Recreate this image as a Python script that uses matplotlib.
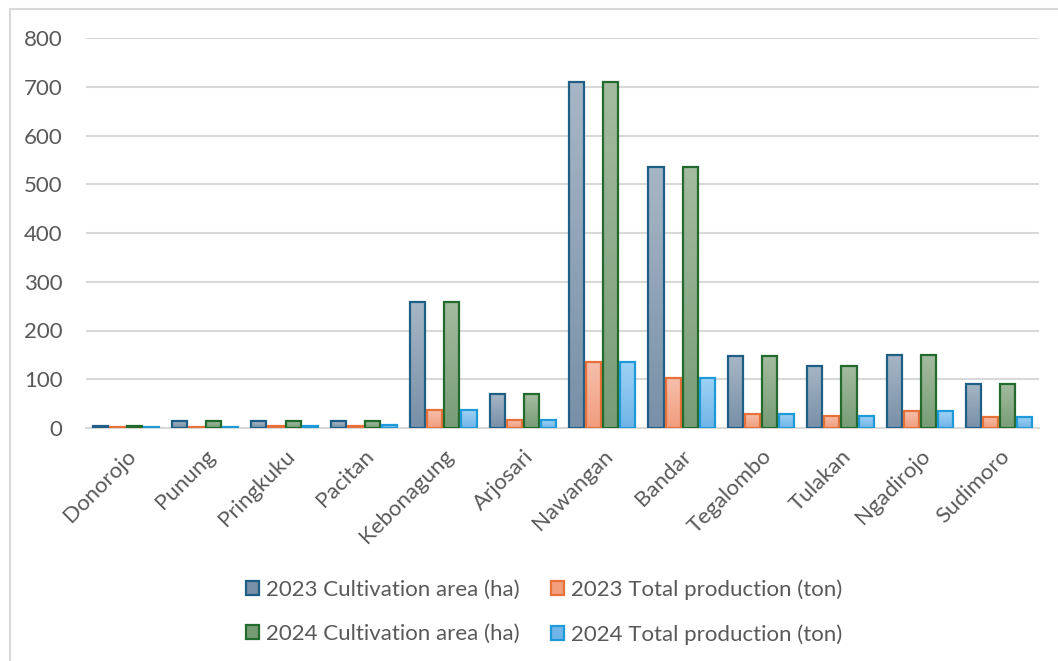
import numpy as np
import matplotlib
matplotlib.use("Agg")
import matplotlib.pyplot as plt
from matplotlib.patches import Rectangle, Patch
from matplotlib.colors import LinearSegmentedColormap

plt.rcParams['font.family'] = ['Lato', 'DejaVu Sans']

districts = ['Donorojo', 'Punung', 'Pringkuku', 'Pacitan', 'Kebonagung', 'Arjosari',
             'Nawangan', 'Bandar', 'Tegalombo', 'Tulakan', 'Ngadirojo', 'Sudimoro']
area_2023 = [5, 15, 14, 14, 258, 69, 710, 536, 148, 128, 150, 91]
prod_2023 = [2, 3, 5, 5, 36, 16, 136, 103, 29, 25, 34, 23]
area_2024 = [5, 15, 14, 14, 258, 69, 710, 536, 148, 128, 150, 91]
prod_2024 = [2, 3, 5, 6, 36, 16, 136, 103, 29, 25, 34, 23]
series_labels = ['2023 Cultivation area (ha)', '2023 Total production (ton)',
                 '2024 Cultivation area (ha)', '2024 Total production (ton)']

# (top colour, bottom colour, edge colour)
styles = [
    ('#a7b6c5', '#7890a8', '#1f5f86'),
    ('#f6bfac', '#f19e7e', '#e8713a'),
    ('#a4bb9f', '#789d76', '#226b2c'),
    ('#9fd2f5', '#70b5e8', '#1e9ad8'),
]

W, H = 1058, 661
fig = plt.figure(figsize=(W / 100, H / 100), dpi=100)
ax = fig.add_axes([86 / W, 1 - 428 / H, (1039 - 86) / W, (428 - 38) / H])

# outer chart border
fig.patches.append(Rectangle((10 / W, -0.1), 1.2, (H - 9) / H + 0.1, transform=fig.transFigure,
                             fill=False, edgecolor='#d9d9d9', linewidth=1.5, zorder=0))

x = np.arange(len(districts))
slot = 0.215
bw = 0.19
all_series = [area_2023, prod_2023, area_2024, prod_2024]

for k, vals in enumerate(all_series):
    top, bot, edge = styles[k]
    cmap = LinearSegmentedColormap.from_list('g%d' % k, [bot, top])
    grad = np.linspace(0, 1, 64).reshape(-1, 1)
    bars = ax.bar(x + (k - 1.5) * slot, vals, width=bw, facecolor='none',
                  edgecolor=edge, linewidth=1.6, zorder=3)
    for b in bars:
        x0, y0 = b.get_x(), b.get_y()
        w, h = b.get_width(), b.get_height()
        im = ax.imshow(grad, cmap=cmap, aspect='auto', origin='lower',
                       extent=[x0, x0 + w, y0, y0 + h], zorder=2)
        im.set_clip_path(b)

ax.set_xlim(-0.5, len(districts) - 0.5)
ax.set_ylim(0, 800)
ax.set_yticks(np.arange(0, 801, 100))
ax.yaxis.grid(True, color='#d9d9d9', linewidth=1.5)
ax.set_axisbelow(True)
for s in ['top', 'right', 'left']:
    ax.spines[s].set_visible(False)
ax.spines['bottom'].set_color('#d9d9d9')
ax.spines['bottom'].set_linewidth(1.5)
ax.tick_params(axis='both', length=0, colors='#595959', labelsize=16)
ax.tick_params(axis='y', pad=17)
ax.set_xticks(x)
ax.set_xticklabels(districts, rotation=45, ha='right', rotation_mode='anchor')
ax.tick_params(axis='x', pad=13)

handles = [Patch(facecolor=s[1], edgecolor=s[2], linewidth=1.6) for s in styles]
handles = [handles[0], handles[2], handles[1], handles[3]]
labels = [series_labels[0], series_labels[2], series_labels[1], series_labels[3]]
fig.legend(handles, labels, loc='center', bbox_to_anchor=(0.514, 1 - 612 / H), ncol=2,
           frameon=False, fontsize=16, labelcolor='#595959', handlelength=0.6,
           handleheight=0.6, handletextpad=0.3, columnspacing=1.4, labelspacing=1.1)

fig.savefig('out.png', dpi=100)
